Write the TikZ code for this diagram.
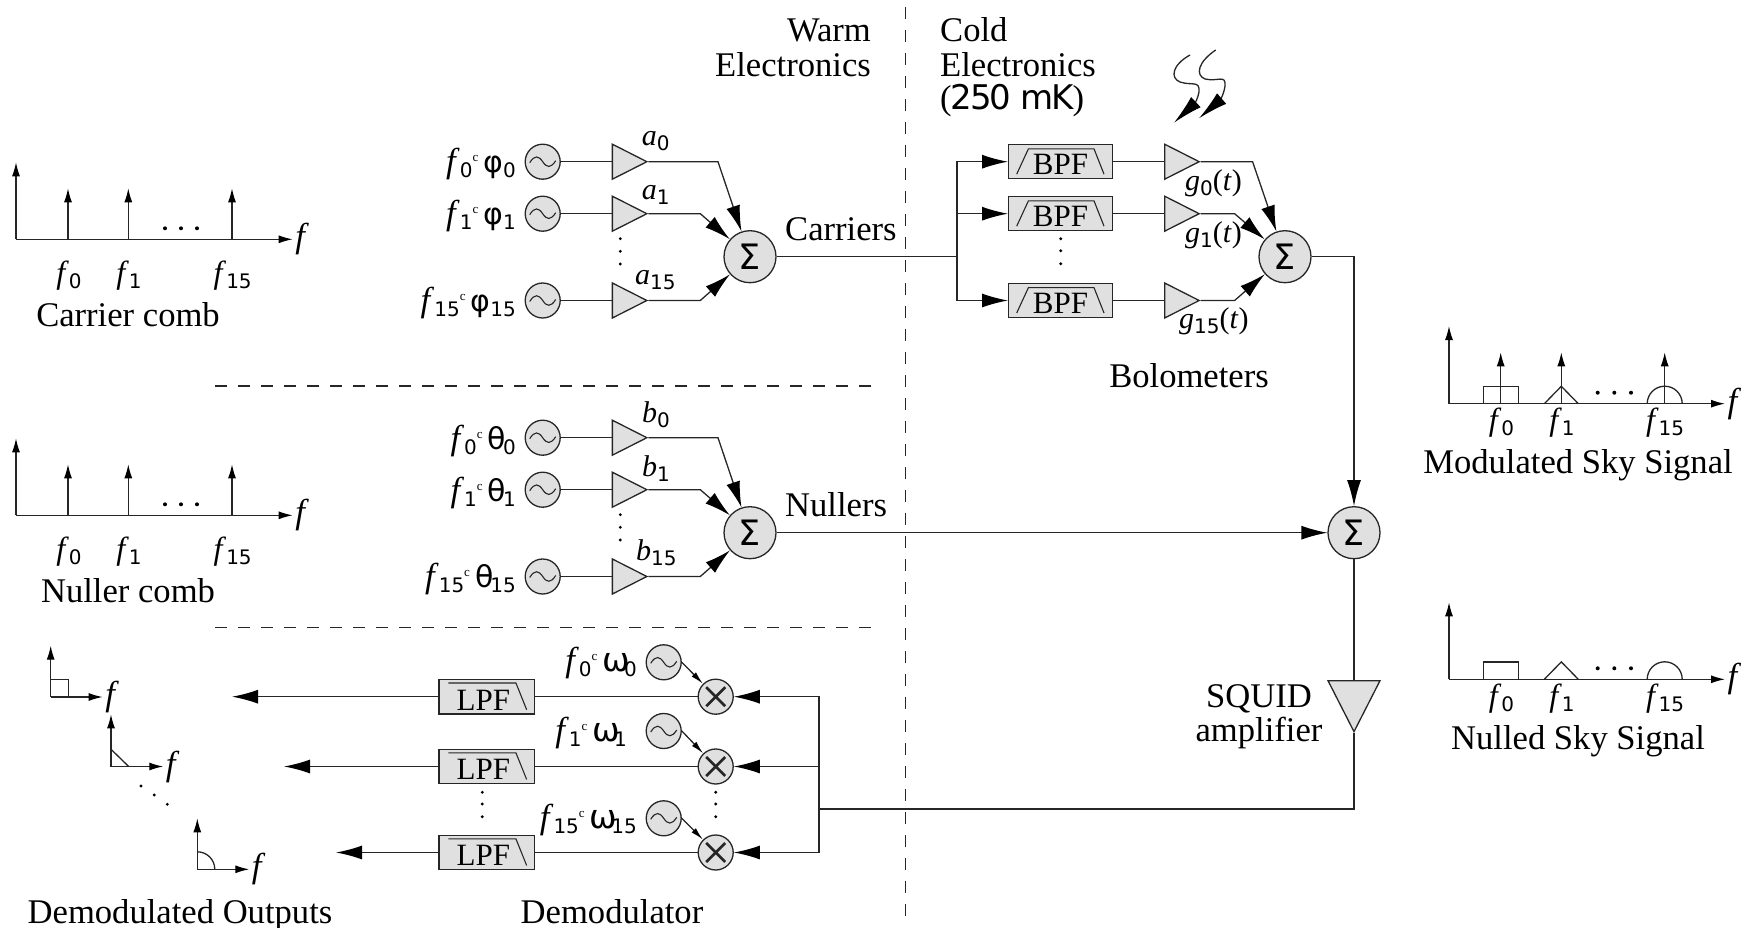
\documentclass[tikz,border=0pt]{standalone}
\usepackage{fontspec}
\setmainfont{Liberation Serif}
\newfontfamily\ksans{DejaVu Sans}
\newfontfamily\ksanstight[LetterSpace=-6]{DejaVu Sans}
\usetikzlibrary{arrows.meta,shapes.geometric}
%label pieces: letter with a digit below, raised c, greek letter with a digit below
\newcommand{\ksubd}[1]{\raisebox{-5pt}{\fontsize{20}{20}\selectfont\ksans #1}}
\newcommand{\ksig}[2]{\textit{#1}\ksubd{#2}}
\newcommand{\kc}{\raisebox{11pt}{\fontsize{13}{13}\selectfont c}\hspace{5pt}}
\newcommand{\kgr}[2]{{\fontsize{30}{30}\selectfont\ksans #1}\ksubd{#2}}
\newcommand{\kom}[1]{{\fontsize{33}{33}\selectfont\ksans ω}\ksubd{\kern-6pt #1}}
%filter outlines over a box
\newcommand{\kbpf}[1]{\draw[filtline,shift={(#1.center)}](-43.8pt,-12.45pt)--(-32.1pt,12.85pt)--(33.5pt,12.85pt)--(43.5pt,-12.45pt);}
\newcommand{\klpf}[1]{\draw[filtline,shift={(#1.center)}](-38.55pt,13.7pt)--(29.15pt,13.7pt)--(39.85pt,-13pt);}
\tikzset{
every node/.style={inner sep=0pt,font=\fontsize{34.6}{35}\selectfont},
wire/.style={line width=1.3pt,draw=black!85},
filtline/.style={line width=1.1pt,draw=black!85},
bigarr/.style={wire,-{Latex[length=26pt,width=14pt,black]}},
smallarr/.style={wire,-{Latex[length=13pt,width=6pt,black]}},
axarr/.style={wire,-{Latex[length=14pt,width=8pt,black]}},
sepline/.style={line width=1.1pt,dash pattern=on 12pt off 11pt,draw=black!85},
sumnode/.style={circle,wire,fill=black!12,minimum size=52pt,font=\fontsize{35}{35}\selectfont\ksans},
oscnode/.style={circle,wire,fill=black!12,minimum size=35pt,path picture={
\draw[line width=1.1pt,shift={(path picture bounding box.center)}](-13pt,-1pt) .. controls (-8pt,7pt) and (-4pt,6pt) .. (0pt,0pt) .. controls (4pt,-6pt) and (8pt,-7pt) .. (13pt,1pt);}},
mixnode/.style={circle,wire,fill=black!12,minimum size=35pt,path picture={
\draw[line width=2.6pt,shift={(path picture bounding box.center)}](-9.5pt,-9.5pt)--(9.5pt,9.5pt)(-9.5pt,9.5pt)--(9.5pt,-9.5pt);}},
ampnode/.style={isosceles triangle,isosceles triangle apex angle=53.8,wire,fill=black!12,minimum height=34.5pt,minimum width=35pt,anchor=lower side},
bpfnode/.style={rectangle,wire,fill=black!12,minimum width=103.6pt,minimum height=34.3pt,font=\fontsize{31}{31}\selectfont},
lpfnode/.style={rectangle,wire,fill=black!12,minimum width=95.7pt,minimum height=34.6pt,font=\fontsize{31}{31}\selectfont},
coefflab/.style={font=\fontsize{30}{30}\selectfont,anchor=base west},
osclab/.style={anchor=base east},
freqlab/.style={anchor=base,font=\fontsize{32}{32}\selectfont},
}
\begin{document}
\begin{tikzpicture}[x=1pt,y=-1pt]
\useasboundingbox(0,0)rectangle(1751,928);
%rows of the carrier, nuller and demodulator banks
\pgfmathsetmacro{\kca}{161.7}
\pgfmathsetmacro{\kcb}{213.7}
\pgfmathsetmacro{\kcc}{300.5}
\pgfmathsetmacro{\kna}{437.7}
\pgfmathsetmacro{\knb}{489.7}
\pgfmathsetmacro{\knc}{576.5}
\pgfmathsetmacro{\kda}{696.7}
\pgfmathsetmacro{\kdb}{766.5}
\pgfmathsetmacro{\kdc}{852.5}
%warm and cold separators
\draw[sepline](905.5,7)--(905.5,916);
\draw[sepline](215,386)--(871,386);
\draw[sepline](215,627.6)--(871,627.6);
\node[anchor=base east](warmlab)at(871,42){Warm};
\node[anchor=base east](warmlabb)at(871,77){Electronics};
\node[anchor=base west](coldlab)at(940,42){Cold};
\node[anchor=base west](coldlabb)at(940,77){Electronics};
\node[anchor=base west](coldlabc)at(940,110){({\fontsize{34}{34}\selectfont\ksanstight\kern-1pt 250 mK\kern-1pt})};
%carrier bank
\node[oscnode](osca)at(542.7,\kca){};
\node[oscnode](oscb)at(542.7,\kcb){};
\node[oscnode](oscc)at(542.7,\kcc){};
\node[ampnode](ampa)at(611.7,\kca){};
\node[ampnode](ampb)at(611.7,\kcb){};
\node[ampnode](ampc)at(611.7,\kcc){};
\node[sumnode](sumc)at(750,256.7){Σ};
\node[osclab](oscla)at(516,173){\ksig{f}{0}\kc\kgr{φ}{0}};
\node[osclab](osclb)at(516,225){\ksig{f}{1}\kc\kgr{φ}{1}};
\node[osclab](osclc)at(516,311){\ksig{f}{15}\kc\kgr{φ}{15}};
\node[coefflab](coefa)at(641.7,145.7){\ksig{a}{0}};
\node[coefflab](coefb)at(641.7,199.3){\ksig{a}{1}};
\node[coefflab](coefc)at(635,284.3){\ksig{a}{15}};
\draw[wire](osca)--(ampa.lower side);
\draw[wire](oscb)--(ampb.lower side);
\draw[wire](oscc)--(ampc.lower side);
\draw[bigarr](ampa.apex)--++(69.7,0)--(sumc);
\draw[bigarr](ampb.apex)--++(52,0)--(sumc);
\draw[bigarr](ampc.apex)--++(52,0)--(sumc);
\fill(620.3,238.7)circle(1.6)(620.3,251.3)circle(1.6)(620.3,264)circle(1.6);
\node[anchor=base west](carrlab)at(785,240.5){Carriers};
%nuller bank
\node[oscnode](oscna)at(542.7,\kna){};
\node[oscnode](oscnb)at(542.7,\knb){};
\node[oscnode](oscnc)at(542.7,\knc){};
\node[ampnode](ampna)at(611.7,\kna){};
\node[ampnode](ampnb)at(611.7,\knb){};
\node[ampnode](ampnc)at(611.7,\knc){};
\node[sumnode](sumn)at(750,532.7){Σ};
\node[osclab](oscnla)at(516,449){\ksig{f}{0}\kc\kgr{θ}{\kern-3pt 0}};
\node[osclab](oscnlb)at(516,501){\ksig{f}{1}\kc\kgr{θ}{\kern-3pt 1}};
\node[osclab](oscnlc)at(516,587){\ksig{f}{15}\kc\kgr{θ}{\kern-3pt 15}};
\node[coefflab](coefna)at(642,422){\ksig{b}{0}};
\node[coefflab](coefnb)at(642,476){\ksig{b}{1}};
\node[coefflab](coefnc)at(636,560){\ksig{b}{15}};
\draw[wire](oscna)--(ampna.lower side);
\draw[wire](oscnb)--(ampnb.lower side);
\draw[wire](oscnc)--(ampnc.lower side);
\draw[bigarr](ampna.apex)--++(69.7,0)--(sumn);
\draw[bigarr](ampnb.apex)--++(52,0)--(sumn);
\draw[bigarr](ampnc.apex)--++(52,0)--(sumn);
\fill(620.3,514.7)circle(1.6)(620.3,527.3)circle(1.6)(620.3,540)circle(1.6);
\node[anchor=base west](nulllab)at(785,516.5){Nullers};
%bolometers
\coordinate(split)at(957,256.7);
\node[bpfnode](bpfa)at(1060.5,\kca){\raisebox{-13.3pt}[0pt][0pt]{BPF}};
\node[bpfnode](bpfb)at(1060.5,\kcb){\raisebox{-13.3pt}[0pt][0pt]{BPF}};
\node[bpfnode](bpfc)at(1060.5,\kcc){\raisebox{-13.3pt}[0pt][0pt]{BPF}};
\kbpf{bpfa}
\kbpf{bpfb}
\kbpf{bpfc}
\node[ampnode](bola)at(1164,\kca){};
\node[ampnode](bolb)at(1164,\kcb){};
\node[ampnode](bolc)at(1164,\kcc){};
\node[sumnode](sumb)at(1285,256.7){Σ};
\node[sumnode](sumt)at(1354,532.7){Σ};
\node[coefflab](gaina)at(1185,190.7){\ksig{g}{0}(\textit{t})};
\node[coefflab](gainb)at(1185,242.7){\ksig{g}{1}(\textit{t})};
\node[coefflab](gainc)at(1179,328){\ksig{g}{15}(\textit{t})};
\draw[wire](sumc)--(split);
\draw[wire](bpfa)--(bola.lower side);
\draw[wire](bpfb)--(bolb.lower side);
\draw[wire](bpfc)--(bolc.lower side);
\draw[bigarr](split)|-(bpfa);
\draw[bigarr](split)|-(bpfb);
\draw[bigarr](split)|-(bpfc);
\draw[bigarr](bola.apex)--++(52,0)--(sumb);
\draw[bigarr](bolb.apex)--++(34,0)--(sumb);
\draw[bigarr](bolc.apex)--++(34,0)--(sumb);
\fill(1060.7,238.7)circle(1.6)(1060.7,250.7)circle(1.6)(1060.7,263.7)circle(1.6);
\node[anchor=base](bololab)at(1189,387.5){Bolometers};
\draw[bigarr](sumb)-|(sumt);
\draw[bigarr](sumn)--(sumt);
%incoming radiation
\draw[wire,-{Latex[length=30pt,width=14pt,black]}](1190,55) .. controls (1172,65) and (1170,78) .. (1180,82) .. controls (1192,86) and (1200,80) .. (1199,92) .. controls (1198,98) and (1195,103) .. (1174,122.7);
\draw[wire,-{Latex[length=30pt,width=14pt,black]}](1215.7,50) .. controls (1198,62) and (1195,75) .. (1205,79) .. controls (1218,82) and (1226,74) .. (1225,86) .. controls (1224,94) and (1220,100) .. (1199,118.3);
%squid
\node[isosceles triangle,isosceles triangle apex angle=54,shape border rotate=-90,wire,fill=black!12,minimum height=50.7pt,minimum width=52pt,anchor=lower side](squid)at(1354,680){};
\node[anchor=base](squidlab)at(1259,707){SQUID};
\node[anchor=base](squidlabb)at(1259,741){amplifier};
\coordinate(demjoin)at(819,809);
\draw[wire](sumt)--(squid.lower side);
\draw[wire](squid.apex)|-(demjoin);
%demodulator
\node[lpfnode](lpfa)at(486.8,\kda){\raisebox{-13.3pt}[0pt][0pt]{\kern-7pt LPF}};
\node[lpfnode](lpfb)at(486.8,\kdb){\raisebox{-13.3pt}[0pt][0pt]{\kern-7pt LPF}};
\node[lpfnode](lpfc)at(486.8,\kdc){\raisebox{-13.3pt}[0pt][0pt]{\kern-7pt LPF}};
\klpf{lpfa}
\klpf{lpfb}
\klpf{lpfc}
\node[mixnode](mixa)at(715.7,\kda){};
\node[mixnode](mixb)at(715.7,\kdb){};
\node[mixnode](mixc)at(715.7,\kdc){};
\node[oscnode](oscda)at(663.7,662.3){};
\node[oscnode](oscdb)at(663.7,731){};
\node[oscnode](oscdc)at(663.7,818.3){};
\node[osclab](oscdla)at(637,671.7){\ksig{f}{0}\kc\kom{0}};
\node[osclab](oscdlb)at(627,741){\ksig{f}{1}\kc\kom{1}};
\node[osclab](oscdlc)at(637,828){\ksig{f}{15}\kc\kom{15}};
\coordinate(outa)at(232,\kda);
\coordinate(outb)at(284,\kdb);
\coordinate(outc)at(336,\kdc);
\draw[bigarr](lpfa)--(outa);
\draw[bigarr](lpfb)--(outb);
\draw[bigarr](lpfc)--(outc);
\draw[wire](mixa)--(lpfa);
\draw[wire](mixb)--(lpfb);
\draw[wire](mixc)--(lpfc);
\draw[bigarr](demjoin)|-(mixa);
\draw[bigarr](demjoin)|-(mixb);
\draw[bigarr](demjoin)|-(mixc);
\draw[smallarr](oscda.east)--(mixa);
\draw[smallarr](oscdb.east)--(mixb);
\draw[smallarr](oscdc.east)--(mixc);
\fill(482.3,792.3)circle(1.6)(482.3,804)circle(1.6)(482.3,816.7)circle(1.6);
\fill(715.7,792.3)circle(1.6)(715.7,804)circle(1.6)(715.7,816.7)circle(1.6);
\node[anchor=base](demodlab)at(612,923){Demodulator};
%carrier comb
\draw[axarr](16,239.3)--(16,162.3);
\draw[axarr](16,239.3)--++(276.7,0)node[right,xshift=2pt](fcc){\textit{f}};
\draw[axarr](68,239.3)--++(0,-51);
\draw[axarr](128.3,239.3)--++(0,-51);
\draw[axarr](232,239.3)--++(0,-51);
\fill(165,228.3)circle(2)(181,228.3)circle(2)(197,228.3)circle(2);
\node[freqlab](fcca)at(69,283.5){\ksig{f}{0}};
\node[freqlab](fccb)at(129,283.5){\ksig{f}{1}};
\node[freqlab](fccc)at(232.7,283.5){\ksig{f}{15}};
\node[anchor=base](carrcomb)at(128,326){Carrier comb};
%nuller comb
\draw[axarr](16,515.3)--(16,438.3);
\draw[axarr](16,515.3)--++(276.7,0)node[right,xshift=2pt](fnc){\textit{f}};
\draw[axarr](68,515.3)--++(0,-51);
\draw[axarr](128.3,515.3)--++(0,-51);
\draw[axarr](232,515.3)--++(0,-51);
\fill(165,504.3)circle(2)(181,504.3)circle(2)(197,504.3)circle(2);
\node[freqlab](fnca)at(69,559.5){\ksig{f}{0}};
\node[freqlab](fncb)at(129,559.5){\ksig{f}{1}};
\node[freqlab](fncc)at(232.7,559.5){\ksig{f}{15}};
\node[anchor=base](nullcomb)at(128,602){Nuller comb};
%modulated sky signal
\draw[axarr](1449,403.7)--(1449,326);
\draw[axarr](1449,403.7)--++(276,0)node[right,xshift=2pt](fms){\textit{f}};
\draw[axarr](1500.7,403.7)--++(0,-51.4);
\draw[axarr](1561.3,403.7)--++(0,-51.4);
\draw[axarr](1664.7,403.7)--++(0,-51.4);
\draw[wire](1483.3,403.7)--++(0,-17.4)--++(35,0)--++(0,17.4);
\draw[wire](1544.3,403.7)--(1561.3,386.3)--(1578.3,403.7);
\draw[wire](1647.2,403.7)arc[start angle=180,end angle=0,radius=17.5pt];
\fill(1597.7,392.7)circle(2)(1614.3,392.7)circle(2)(1631,392.7)circle(2);
\node[freqlab](fmsa)at(1501.5,430.7){\ksig{f}{0}};
\node[freqlab](fmsb)at(1562,430.7){\ksig{f}{1}};
\node[freqlab](fmsc)at(1665,430.7){\ksig{f}{15}};
\node[anchor=base](modlab)at(1578,473){Modulated Sky Signal};
%nulled sky signal
\draw[axarr](1449,679.3)--(1449,602.3);
\draw[axarr](1449,679.3)--++(276,0)node[right,xshift=2pt](fns){\textit{f}};
\draw[wire](1483.3,679.3)--++(0,-17.4)--++(35,0)--++(0,17.4);
\draw[wire](1544.3,679.3)--(1561.3,661.9)--(1578.3,679.3);
\draw[wire](1647.2,679.3)arc[start angle=180,end angle=0,radius=17.5pt];
\fill(1597.7,668.3)circle(2)(1614.3,668.3)circle(2)(1631,668.3)circle(2);
\node[freqlab](fnsa)at(1501.5,706.7){\ksig{f}{0}};
\node[freqlab](fnsb)at(1562,706.7){\ksig{f}{1}};
\node[freqlab](fnsc)at(1665,706.7){\ksig{f}{15}};
\node[anchor=base](nulledlab)at(1578,749.7){Nulled Sky Signal};
%demodulated outputs
\draw[axarr](50.7,697)--(50.7,645.7);
\draw[axarr](50.7,697)--++(52,0)node[right,xshift=2pt](foa){\textit{f}};
\draw[wire](50.7,679.7)--++(17.6,0)--++(0,17.3);
\draw[axarr](111,766.5)--(111,714.3);
\draw[axarr](111,766.5)--++(52.3,0)node[right,xshift=2pt](fob){\textit{f}};
\draw[wire](111,749.3)--(128.7,766.5);
\draw[axarr](197.3,869.3)--(197.3,818.3);
\draw[axarr](197.3,869.3)--++(52,0)node[right,xshift=2pt](foc){\textit{f}};
\draw[wire](197.3,851.8)arc[start angle=90,end angle=0,radius=17.5pt];
\fill(141,786)circle(1.6)(154.3,795)circle(1.6)(167.3,804.3)circle(1.6);
\node[anchor=base](outlab)at(180,923){Demodulated Outputs};
\end{tikzpicture}
\end{document}
